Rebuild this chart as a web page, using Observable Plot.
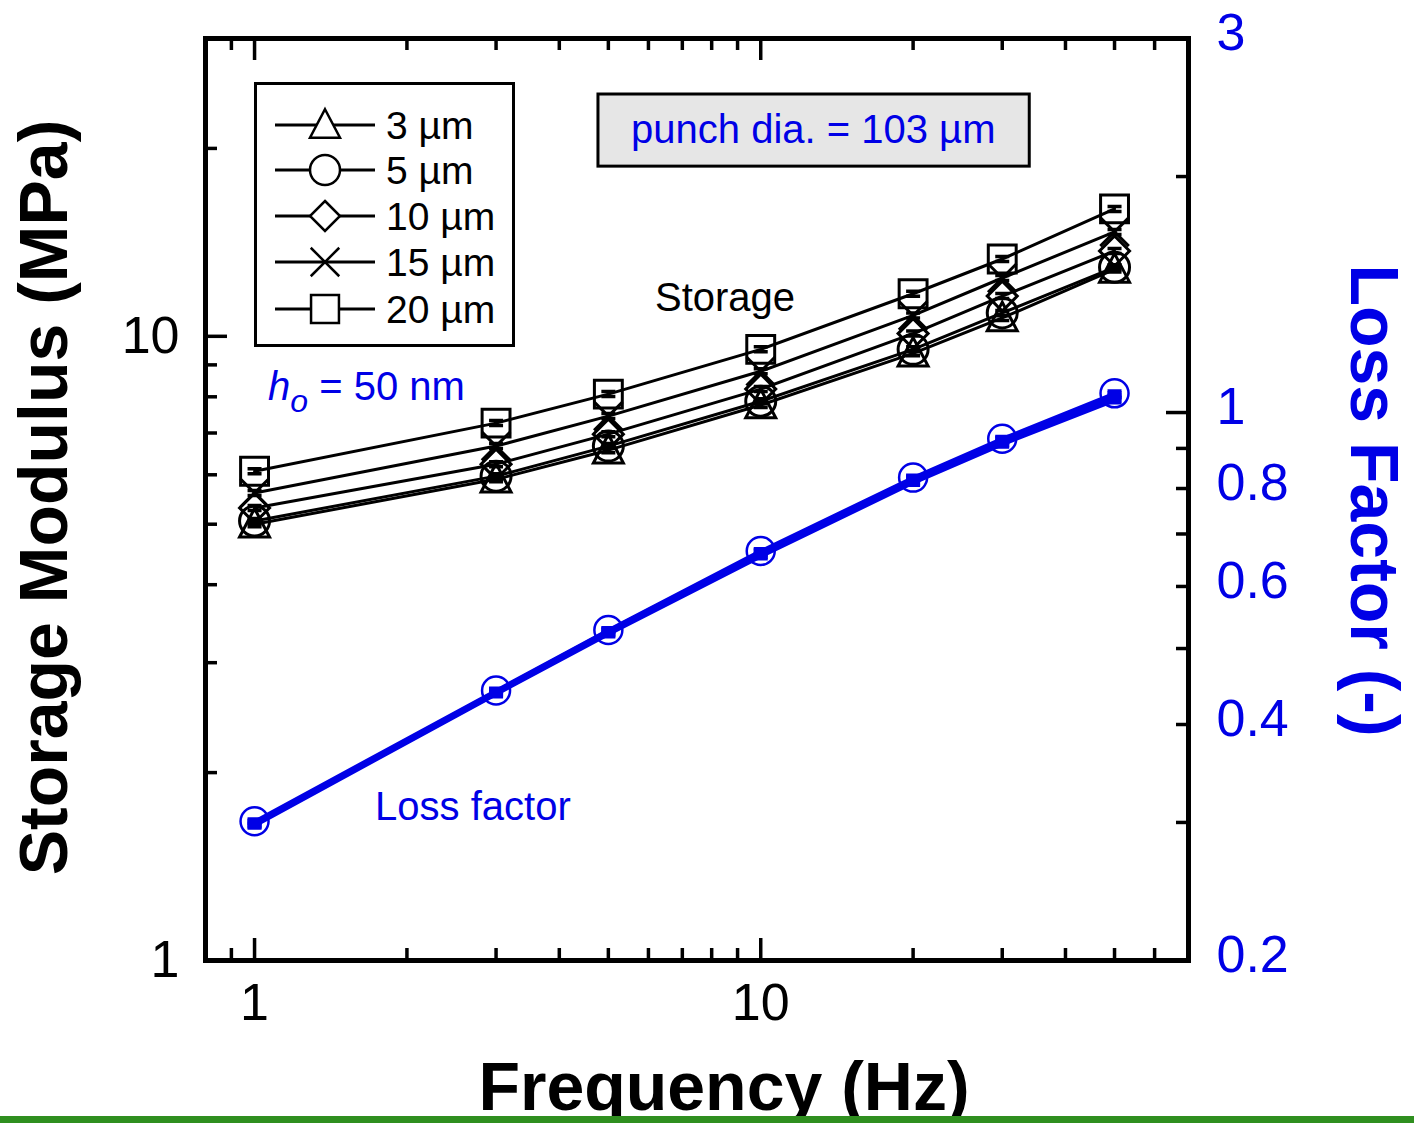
<!DOCTYPE html>
<html><head><meta charset="utf-8">
<script src="https://cdn.jsdelivr.net/npm/d3@7"></script>
<script src="https://cdn.jsdelivr.net/npm/@observablehq/plot@0.6"></script>
<style>
body{margin:0;background:#fff;font-family:Arial,"Liberation Sans",sans-serif;}
#wrap{position:relative;width:1414px;height:1123px;overflow:hidden;background:#fff;}
#wrap svg.plot{position:absolute;left:0;top:0;}
#legend{position:absolute;left:254px;top:82px;}
#ho{position:absolute;left:268px;top:366px;color:#0000e6;font-size:40px;line-height:40px;white-space:nowrap;}
#ho sub{font-size:32px;vertical-align:-12px;line-height:0;}
#green{position:absolute;left:0;top:1116px;width:1414px;height:7px;background:#2f8f1f;}
</style></head><body><div id="wrap"><div id="green"></div></div>
<script>
// ---------- data ----------
const frequencies = [1, 3, 5, 10, 20, 30, 50];
const seriesNames = ["3 µm", "5 µm", "10 µm", "15 µm", "20 µm"];
const seriesSymbols = ["triangle", "circle", "diamond", "times", "square"];

const storage3um  = [5.00, 5.90, 6.57, 7.76, 9.39, 10.7, 12.8];
const storage5um  = [5.06, 5.97, 6.67, 7.87, 9.53, 10.9, 12.9];
const storage10um = [5.31, 6.24, 6.97, 8.23, 10.1, 11.6, 13.7];
const storage15um = [5.61, 6.67, 7.45, 8.79, 10.8, 12.4, 14.7];
const storage20um = [6.08, 7.26, 8.08, 9.53, 11.7, 13.3, 16.0];

const loss3um  = [0.297, 0.437, 0.521, 0.655, 0.813, 0.910, 1.036];
const loss5um  = [0.298, 0.438, 0.523, 0.658, 0.817, 0.915, 1.042];
const loss10um = [0.299, 0.440, 0.525, 0.661, 0.821, 0.919, 1.048];
const loss15um = [0.300, 0.441, 0.527, 0.664, 0.824, 0.923, 1.053];
const loss20um = [0.301, 0.442, 0.528, 0.666, 0.826, 0.926, 1.058];

const xDomain = [0.8, 70];
const yLeftDomain = [1, 30];
const yRightDomain = [0.2, 3];
const xMajorTicks = [1, 10];
const xMinorTicks = [0.9, 2, 3, 4, 5, 6, 7, 8, 9, 20, 30, 40, 50, 60];
const yLeftMajorTicks = [1, 10];
const yLeftMinorTicks = [2, 3, 4, 5, 6, 7, 8, 9, 20];
const yRightLabels = [0.2, 0.4, 0.6, 0.8, 1, 3];
const yRightMajorTicks = [1];
const yRightMinorTicks = [0.3, 0.4, 0.5, 0.6, 0.7, 0.8, 0.9, 2];

const textNotes = [
  {text: "Storage", f: 8.5, v: 11.5, color: "#000"},
  {text: "Loss factor", f: 2.7, loss: 0.314, color: "#0000e6"}
];
const punchBox = {x1: 4.78, x2: 34.0, y1: 18.7, y2: 24.4, text: "punch dia. = 103 µm", f: 12.7, v: 21.4};

// ---------- helpers ----------
const BLUE = "#0000e6";
const W = 1414, H = 1123, mL = 205, mR = 1414 - 1188, mT = 38, mB = 1123 - 960;
const innerW = W - mL - mR, innerH = H - mT - mB;
// map a loss-factor value (right axis) onto the left log scale
const lr = Math.log(yRightDomain[1] / yRightDomain[0]);
const ll = Math.log(yLeftDomain[1] / yLeftDomain[0]);
const toLeft = v => yLeftDomain[0] * Math.exp(Math.log(v / yRightDomain[0]) / lr * ll);
const fromLeft = y => yRightDomain[0] * Math.exp(Math.log(y / yLeftDomain[0]) / ll * lr);

const rad = size => Math.sqrt(size / Math.PI);
const SYM = {
  triangle: {draw(c, s) { const r = rad(s); c.moveTo(0, -r * 1.05); c.lineTo(r, r * 0.85); c.lineTo(-r, r * 0.85); c.closePath(); }},
  circle:   {draw(c, s) { const r = rad(s); c.moveTo(r, 0); c.arc(0, 0, r, 0, 2 * Math.PI); }},
  diamond:  {draw(c, s) { const r = rad(s); c.moveTo(0, -r); c.lineTo(r, 0); c.lineTo(0, r); c.lineTo(-r, 0); c.closePath(); }},
  times:    {draw(c, s) { const r = rad(s) * 0.95; c.moveTo(-r, -r); c.lineTo(r, r); c.moveTo(r, -r); c.lineTo(-r, r); }},
  square:   {draw(c, s) { const r = rad(s) * 0.93; c.rect(-r, -r, 2 * r, 2 * r); }},
  cap:      {draw(c, s) { const r = rad(s); c.moveTo(-r, -2.5); c.lineTo(r, -2.5); c.moveTo(-r, 2.5); c.lineTo(r, 2.5); }}
};

const storageSeries = [storage3um, storage5um, storage10um, storage15um, storage20um];
const lossSeries = [loss3um, loss5um, loss10um, loss15um, loss20um];
const storageRows = seriesNames.map((name, i) => frequencies.map((f, j) => ({f, v: storageSeries[i][j], name})));
const lossRows = seriesNames.map((name, i) => frequencies.map((f, j) => ({f, v: toLeft(lossSeries[i][j]), name})));

const marks = [];
// loss factor (blue)
lossRows.forEach(rows => {
  marks.push(Plot.line(rows, {x: "f", y: "v", stroke: BLUE, strokeWidth: 3.5}));
});
marks.push(Plot.dot(lossRows[4], {x: "f", y: "v", r: 14, symbol: SYM.circle, stroke: BLUE, strokeWidth: 2.5, fill: "none"}));
lossRows.forEach(rows => {
  marks.push(Plot.dot(rows, {x: "f", y: "v", r: 7, symbol: SYM.cap, stroke: BLUE, strokeWidth: 3}));
});
// storage (black)
storageRows.forEach((rows, i) => {
  marks.push(Plot.line(rows, {x: "f", y: "v", stroke: "#000", strokeWidth: 3}));
  marks.push(Plot.dot(rows, {x: "f", y: "v", r: 15, symbol: SYM[seriesSymbols[i]], stroke: "#000", strokeWidth: 3, fill: "none"}));
  marks.push(Plot.dot(rows, {x: "f", y: "v", r: 7, symbol: SYM.cap, stroke: "#000", strokeWidth: 3.5}));
});

// annotation box
marks.push(Plot.rect([punchBox], {x1: "x1", x2: "x2", y1: "y1", y2: "y2", fill: "#e6e6e6", stroke: "#000", strokeWidth: 3}));
marks.push(Plot.text([punchBox], {x: "f", y: "v", text: "text", fill: BLUE, fontSize: 40}));
marks.push(Plot.text(textNotes, {x: "f", y: d => d.v ?? toLeft(d.loss), text: "text", fill: d => d.color, fontSize: 40}));

// ticks (inward)
const tickW = 3.5;
marks.push(Plot.tickX(xMinorTicks, {x: d => d, stroke: "#000", strokeWidth: tickW, insetTop: innerH - 12}));
marks.push(Plot.tickX(xMajorTicks, {x: d => d, stroke: "#000", strokeWidth: tickW, insetTop: innerH - 22}));
marks.push(Plot.tickX(xMinorTicks, {x: d => d, stroke: "#000", strokeWidth: tickW, insetBottom: innerH - 12}));
marks.push(Plot.tickX(xMajorTicks, {x: d => d, stroke: "#000", strokeWidth: tickW, insetBottom: innerH - 22}));
marks.push(Plot.tickY(yLeftMinorTicks, {y: d => d, stroke: "#000", strokeWidth: tickW, insetRight: innerW - 12}));
marks.push(Plot.tickY(yLeftMajorTicks, {y: d => d, stroke: "#000", strokeWidth: tickW, insetRight: innerW - 22}));
marks.push(Plot.tickY(yRightMinorTicks.map(toLeft), {y: d => d, stroke: "#000", strokeWidth: tickW, insetLeft: innerW - 12}));
marks.push(Plot.tickY(yRightMajorTicks.map(toLeft), {y: d => d, stroke: "#000", strokeWidth: tickW, insetLeft: innerW - 22}));

// axes labels
marks.push(Plot.axisX(xMajorTicks, {anchor: "bottom", tickSize: 0, tickPadding: 23, fontSize: 52, fill: "#000", tickFormat: d => String(d)}));
marks.push(Plot.axisY(yLeftMajorTicks, {anchor: "left", tickSize: 0, tickPadding: 26, fontSize: 52, fill: "#000", tickFormat: d => String(d)}));
marks.push(Plot.axisY(yRightLabels.map(toLeft), {anchor: "right", tickSize: 0, tickPadding: 28, fontSize: 52, fill: BLUE, dy: -5,
  tickFormat: d => String(+fromLeft(d).toPrecision(2))}));

// axis titles
marks.push(Plot.text(["Frequency (Hz)"], {frameAnchor: "bottom", dx: 27, dy: 149, lineAnchor: "bottom", textAnchor: "middle", fontSize: 68, fontWeight: "bold", fill: "#000"}));
marks.push(Plot.text(["Storage Modulus (MPa)"], {frameAnchor: "left", dx: -160, dy: -2, rotate: -90, textAnchor: "middle", lineAnchor: "middle", fontSize: 68, fontWeight: "bold", fill: "#000"}));
marks.push(Plot.text(["Loss Factor (-)"], {frameAnchor: "right", dx: 184, dy: 1, rotate: 90, textAnchor: "middle", lineAnchor: "middle", fontSize: 68, fontWeight: "bold", fill: BLUE}));

marks.push(Plot.frame({stroke: "#000", strokeWidth: 5}));

const chart = Plot.plot({
  width: W, height: H,
  marginLeft: mL, marginRight: mR, marginTop: mT, marginBottom: mB,
  style: {fontFamily: 'Arial, "Liberation Sans", sans-serif', background: "white", overflow: "visible"},
  x: {type: "log", domain: xDomain},
  y: {type: "log", domain: yLeftDomain},
  marks
});
chart.classList.add("plot");
const wrap = document.getElementById("wrap");
wrap.insertBefore(chart, wrap.firstChild);

// legend (inside plot area)
const lgW = 261, lgH = 265, rowY = [43, 88, 134, 180, 227];
const lg = d3.select(wrap).append("div").attr("id", "legend")
  .append("svg").attr("width", lgW).attr("height", lgH)
  .style("font-family", 'Arial, "Liberation Sans", sans-serif');
lg.append("rect").attr("x", 1.5).attr("y", 1.5).attr("width", lgW - 3).attr("height", lgH - 3)
  .attr("fill", "white").attr("stroke", "#000").attr("stroke-width", 3);
seriesNames.forEach((name, i) => {
  const g = lg.append("g").attr("transform", `translate(0,${rowY[i]})`);
  g.append("line").attr("x1", 21).attr("x2", 121).attr("stroke", "#000").attr("stroke-width", 3);
  g.append("path").attr("transform", "translate(71,0)")
    .attr("d", d3.symbol(SYM[seriesSymbols[i]], Math.PI * 15 * 15)())
    .attr("fill", "white").attr("stroke", "#000").attr("stroke-width", 2.5);
  g.append("text").attr("x", 132).attr("dy", "0.36em").attr("font-size", 39).text(name);
});

// h_o annotation
d3.select(wrap).append("div").attr("id", "ho").html('<i>h</i><sub><i>o</i></sub> = 50 nm');
</script>
</body></html>
